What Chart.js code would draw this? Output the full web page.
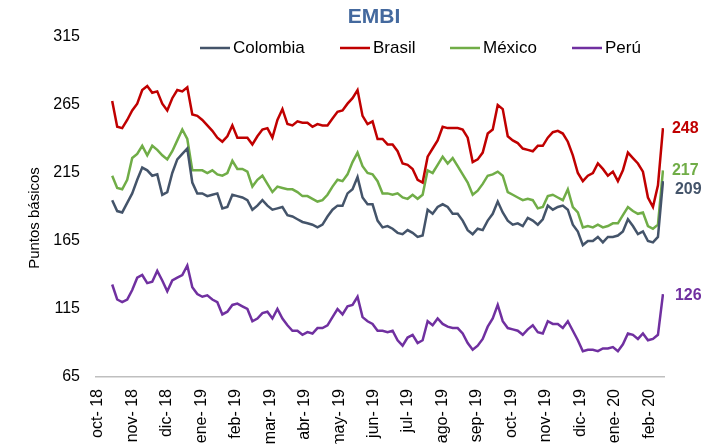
<!DOCTYPE html>
<html>
<head>
<meta charset="utf-8">
<script src="https://cdn.jsdelivr.net/npm/chart.js@4.4.1/dist/chart.umd.min.js"></script>
<style>
  html, body { margin: 0; padding: 0; background: #fff; }
  canvas { display: block; }
</style>
</head>
<body>
<canvas id="embiChart" width="705" height="444"></canvas>
<script>
// etiquetas del eje x (una por mes)
var meses = ['oct- 18', 'nov- 18', 'dic- 18', 'ene- 19', 'feb- 19', 'mar- 19', 'abr- 19', 'may- 19',
             'jun- 19', 'jul- 19', 'ago- 19', 'sep- 19', 'oct- 19', 'nov- 19', 'dic- 19', 'ene- 20', 'feb- 20'];

// primer y último dato, en meses desde oct-18
var inicio = 0.41;
var fin = 16.40;

var colombia = [195,187,186,193,200,210,219,217,213,214,
                199,201,215,225,229,233,208,200,200,198,
                199,200,189,190,199,198,197,195,188,191,
                195,191,188,189,190,184,183,181,179,178,
                177,175,177,183,188,191,191,200,203,212,
                197,192,192,180,175,176,174,171,170,173,
                171,168,169,188,185,190,192,190,185,185,
                180,173,170,174,173,180,185,194,186,180,
                177,178,176,182,180,177,181,191,188,190,
                191,188,177,172,162,165,165,168,164,168,
                168,169,172,181,176,170,172,165,164,168,
                209];

var brasil = [268,249,248,254,261,266,276,279,274,275,
              266,261,270,276,275,278,258,257,254,250,
              246,241,238,242,250,241,241,241,236,242,
              247,248,241,254,262,251,250,253,252,252,
              249,251,250,250,255,260,261,266,270,276,
              257,251,253,240,240,236,236,231,222,221,
              218,210,208,227,233,239,249,248,248,248,
              247,241,223,225,230,244,247,265,262,242,
              239,237,233,232,231,235,235,241,245,246,
              244,238,228,215,209,213,215,222,218,213,
              216,209,217,230,226,222,216,197,190,206,
              248];

var mexico = [213,204,203,210,226,229,235,228,235,232,
              228,225,231,239,247,240,217,217,217,215,
              217,214,213,215,224,218,218,216,205,210,
              213,207,201,205,204,203,203,201,198,198,
              196,194,195,199,205,210,209,214,223,230,
              220,215,214,209,200,200,199,200,197,196,
              199,196,199,217,215,221,227,222,226,220,
              214,208,199,202,207,213,214,216,213,201,
              199,197,195,196,195,189,190,198,199,197,
              195,203,190,186,175,176,175,177,175,176,
              178,178,184,190,187,185,186,176,174,177,
              217];

var peru = [133,122,120,122,129,138,140,134,135,143,
            136,128,136,138,140,147,131,126,124,125,
            122,120,111,113,118,119,117,115,106,108,
            112,113,108,115,108,103,99,99,96,98,
            97,101,101,103,109,115,111,117,118,124,
            109,106,104,99,99,98,99,92,88,94,
            96,90,92,106,103,108,104,102,101,101,
            97,90,85,88,93,102,108,118,106,101,
            100,99,96,100,103,98,97,106,104,104,
            101,106,99,92,84,85,85,84,86,86,
            87,84,89,97,96,93,97,92,93,96,
            126];

function puntos(valores) {
    var paso = (fin - inicio) / (valores.length - 1);
    return valores.map(function (v, i) {
        return { x: inicio + i * paso, y: v };
    });
}

function serie(nombre, valores, color) {
    return {
        label: nombre,
        data: puntos(valores),
        borderColor: color,
        backgroundColor: color,
        borderWidth: 2.5,
        pointRadius: 0,
        tension: 0,
        fill: false
    };
}

var fuente = '"Liberation Sans", Arial, sans-serif';
Chart.defaults.font.family = fuente;
Chart.defaults.color = '#000';

// titulo, leyenda, titulo del eje y, y valores finales
var extras = {
    id: 'extras',
    afterDraw: function (chart) {
        var ctx = chart.ctx;
        ctx.save();

        ctx.fillStyle = '#44699e';
        ctx.font = 'bold 21px ' + fuente;
        ctx.textAlign = 'center';
        ctx.textBaseline = 'middle';
        ctx.fillText('EMBI', 374, 17);

        ctx.save();
        ctx.translate(35, 218);
        ctx.rotate(-Math.PI / 2);
        ctx.fillStyle = '#000';
        ctx.font = '15px ' + fuente;
        ctx.fillText('Puntos básicos', 0, 0);
        ctx.restore();

        var leyendaX = [200, 340, 450, 572];
        ctx.font = '17px ' + fuente;
        ctx.textAlign = 'left';
        chart.data.datasets.forEach(function (ds, i) {
            var x = leyendaX[i];
            ctx.strokeStyle = ds.borderColor;
            ctx.lineWidth = 2.5;
            ctx.beginPath();
            ctx.moveTo(x, 48);
            ctx.lineTo(x + 30, 48);
            ctx.stroke();
            ctx.fillStyle = '#000';
            ctx.fillText(ds.label, x + 33, 48);
        });

        var dy = [8, 0, 0, 2];
        var dx = [12, 9, 9, 12];
        ctx.font = 'bold 16px ' + fuente;
        chart.data.datasets.forEach(function (ds, i) {
            var meta = chart.getDatasetMeta(i);
            var p = meta.data[meta.data.length - 1];
            var v = ds.data[ds.data.length - 1].y;
            ctx.fillStyle = ds.borderColor;
            ctx.fillText(String(v), p.x + dx[i], p.y + dy[i]);
        });

        ctx.restore();
    }
};

var ctx = document.getElementById('embiChart');
var embiChart = new Chart(ctx, {
    type: 'line',
    data: {
        datasets: [
            serie('Colombia', colombia, '#44546a'),
            serie('Brasil', brasil, '#c00000'),
            serie('México', mexico, '#70ad47'),
            serie('Perú', peru, '#7030a0')
        ]
    },
    options: {
        responsive: false,
        animation: false,
        devicePixelRatio: 1,
        layout: { padding: { left: 0, right: 41, top: 37, bottom: 0 } },
        plugins: {
            legend: { display: false },
            title: { display: false },
            tooltip: { enabled: false }
        },
        scales: {
            x: {
                type: 'linear',
                min: -0.06,
                max: 16.43,
                grid: { display: false, drawTicks: false },
                border: { display: true, color: '#bfbfbf', width: 1.5 },
                afterBuildTicks: function (scale) {
                    scale.ticks = meses.map(function (m, i) { return { value: i }; });
                },
                afterFit: function (scale) { scale.height = 67; },
                ticks: {
                    autoSkip: false,
                    minRotation: 90,
                    maxRotation: 90,
                    padding: 12,
                    font: { size: 16 },
                    callback: function (value) { return meses[value]; }
                }
            },
            y: {
                min: 65,
                max: 315,
                grid: { display: false, drawTicks: false },
                border: { display: false },
                afterFit: function (scale) { scale.width = 96; },
                ticks: {
                    stepSize: 50,
                    padding: 16,
                    font: { size: 16 }
                }
            }
        }
    },
    plugins: [extras]
});
</script>
</body>
</html>
